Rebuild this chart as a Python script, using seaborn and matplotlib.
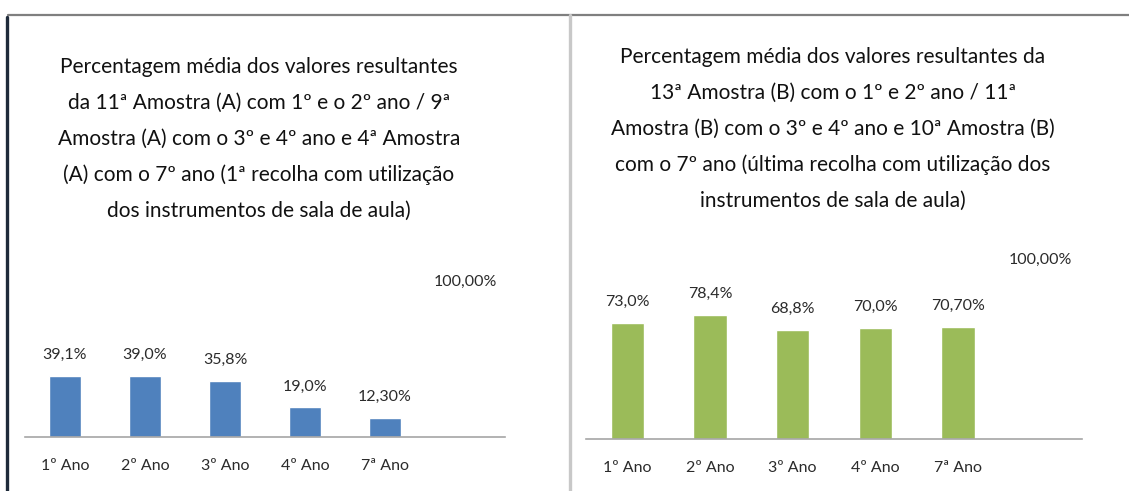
import matplotlib
matplotlib.use("Agg")
import matplotlib.pyplot as plt
import seaborn as sns
import pandas as pd
from matplotlib.lines import Line2D

categories = ["1º Ano", "2º Ano", "3º Ano", "4º Ano", "7ª Ano", " "]
values_a = [39.1, 39.0, 35.8, 19.0, 12.3, 100.0]
labels_a = ["39,1%", "39,0%", "35,8%", "19,0%", "12,30%", "100,00%"]
values_b = [73.0, 78.4, 68.8, 70.0, 70.7, 100.0]
labels_b = ["73,0%", "78,4%", "68,8%", "70,0%", "70,70%", "100,00%"]
title_a = ("Percentagem média dos valores resultantes\n"
           "da 11ª Amostra (A) com 1º e o 2º ano / 9ª\n"
           "Amostra (A) com o 3º e 4º ano e 4ª Amostra\n"
           "(A) com o 7º ano (1ª recolha com utilização\n"
           "dos instrumentos de sala de aula)")
title_b = ("Percentagem média dos valores resultantes da\n"
           "13ª Amostra (B) com o 1º e 2º ano / 11ª\n"
           "Amostra (B) com o 3º e 4º ano e 10ª Amostra (B)\n"
           "com o 7º ano (última recolha com utilização dos\n"
           "instrumentos de sala de aula)")

sns.set_style("white")
plt.rcParams['font.family'] = ['Lato', 'DejaVu Sans']

W, H = 1129, 491
fig = plt.figure(figsize=(W / 100, H / 100), dpi=100)
fig.patch.set_facecolor("white")


def rect(x0, y0, w, h):
    return [x0 / W, 1 - (y0 + h) / H, w / W, h / H]


def panel(box, values, labels, color, cap):
    ax = fig.add_axes(rect(*box))
    df = pd.DataFrame({"cat": categories, "val": values})
    sns.barplot(data=df, x="cat", y="val", order=categories, color=color,
                width=0.4, saturation=1, ax=ax, errorbar=None)
    ax.patches[len(categories) - 1].set_visible(False)
    ax.set_ylim(0, 100)
    ax.set_xlim(-0.5, len(categories) - 0.5)
    ax.set_xlabel("")
    ax.set_ylabel("")
    ax.set_yticks([])
    for s in ["top", "left", "right"]:
        ax.spines[s].set_visible(False)
    ax.spines["bottom"].set_color("#A6A6A6")
    ax.spines["bottom"].set_linewidth(1.2)
    ax.tick_params(axis="x", length=0, pad=16, labelsize=11.5, labelcolor="#2b2b2b")
    ax.patch.set_alpha(0)
    for i, (v, lab) in enumerate(zip(values, labels)):
        ax.annotate(lab, xy=(i, min(v, cap)), xytext=(0, 15), textcoords="offset points",
                    ha="center", va="center", fontsize=11.5, color="#2b2b2b",
                    annotation_clip=False)
    return ax


panel((25, 281, 480, 156), values_a, labels_a, "#4F81BD", 86)
panel((586, 280.5, 496, 158), values_b, labels_b, "#9BBB59", 100)

fig.text(259 / W, 1 - 139 / H, title_a, ha="center", va="center", fontsize=15,
         linespacing=1.97, color="#111111")
fig.text(833 / W, 1 - 129 / H, title_b, ha="center", va="center", fontsize=15,
         linespacing=1.97, color="#111111")

# frame lines of the screenshot
fig.add_artist(Line2D([8 / W, 1], [1 - 14.5 / H, 1 - 14.5 / H], color="#7F7F7F", lw=1.6))
fig.add_artist(Line2D([7 / W, 7 / W], [0, 1 - 17 / H], color="#1F2B3A", lw=2.4))
fig.add_artist(Line2D([569.5 / W, 569.5 / W], [0, 1 - 15 / H], color="#C8C8C8", lw=2.4))

fig.savefig("out.png", dpi=100)
